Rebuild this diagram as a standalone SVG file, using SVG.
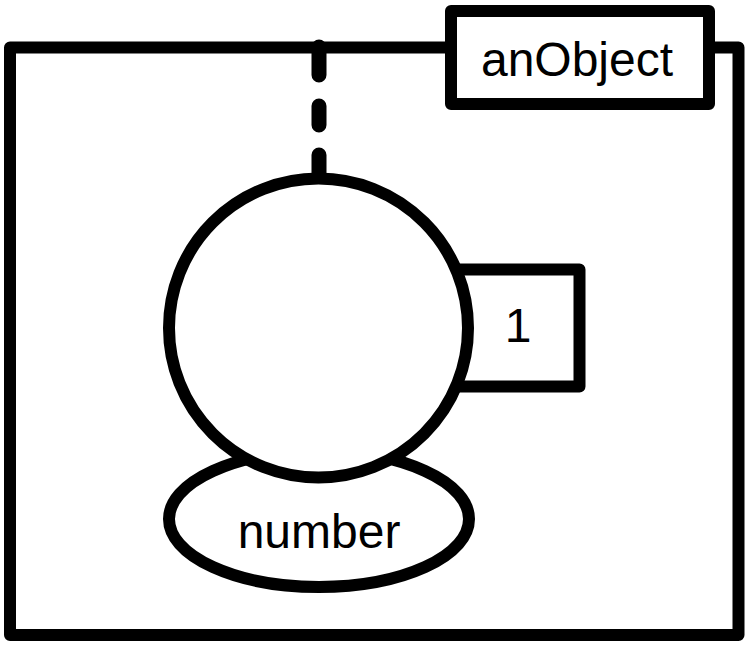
<svg xmlns="http://www.w3.org/2000/svg" width="749" height="646" viewBox="0 0 749 646">
  <style>
    .shape { fill: #ffffff; stroke: #000000; stroke-width: 12; stroke-linejoin: round; }
    .label { font-family: "Liberation Sans", Arial, sans-serif; font-size: 48px; fill: #000000; text-anchor: middle; }
    .conn { fill: none; stroke: #000000; stroke-width: 15; stroke-linecap: round; }
  </style>
  <rect width="749" height="646" fill="#ffffff"/>
  <g id="frame">
    <rect class="shape" x="10" y="47.5" width="728.5" height="587.5"/>
  </g>
  <g id="frame-label">
    <rect class="shape" x="451" y="11" width="258" height="93"/>
    <text class="label" x="577" y="76">anObject</text>
  </g>
  <g id="connectors">
    <path class="conn" d="M319 47 V178" stroke-dasharray="28 31 19 30 60"/>
  </g>
  <g id="multiplicity">
    <rect class="shape" x="430" y="269.5" width="149.5" height="117"/>
    <text class="label" x="518" y="342">1</text>
  </g>
  <g id="type">
    <ellipse class="shape" cx="319" cy="519" rx="150" ry="68"/>
    <text class="label" x="319" y="548">number</text>
  </g>
  <g id="object">
    <circle class="shape" cx="318.5" cy="328" r="149.5"/>
  </g>
</svg>
